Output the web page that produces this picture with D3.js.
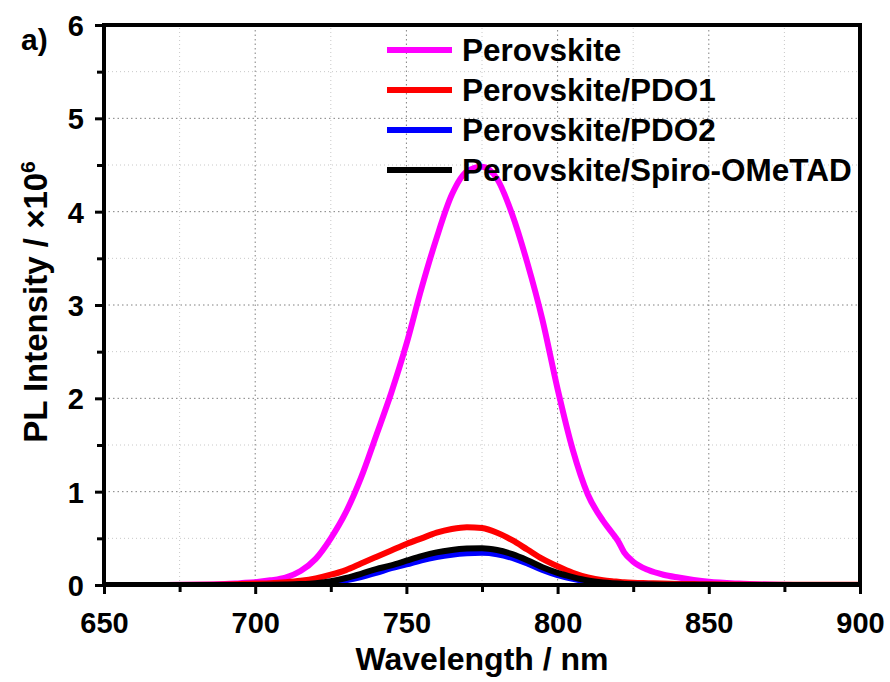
<!DOCTYPE html>
<html>
<head>
<meta charset="utf-8">
<script src="https://cdn.jsdelivr.net/npm/d3@7"></script>
<style>
  body { margin: 0; background: #fff; }
  text { font-family: Arial, "Liberation Sans", sans-serif; font-weight: bold; }
</style>
</head>
<body>
<svg id="chart" width="890" height="682"></svg>
<script>
// wavelength grid (nm)
const wavelength = [650, 670, 685, 690, 695,
  700, 705, 710, 715, 720, 725, 730, 735, 740, 745, 750, 755, 760, 765, 770, 775,
  780, 785, 790, 795, 800, 805, 810, 815, 818, 820, 822,
  825, 830, 835, 840, 845, 850, 860, 870, 880, 900];

// PL intensity, x10^6
const perovskite = [0, 0, 0.005, 0.01, 0.02,
  0.03, 0.05, 0.08, 0.15, 0.28, 0.5, 0.78, 1.15, 1.6, 2.06, 2.58, 3.18, 3.72, 4.18, 4.43, 4.48,
  4.35, 3.97, 3.45, 2.84, 2.1, 1.45, 0.97, 0.69, 0.56, 0.47, 0.35,
  0.25, 0.16, 0.11, 0.08, 0.055, 0.035, 0.015, 0.005, 0, 0];
const pdo1 = [0, 0, 0.003, 0.005, 0.01,
  0.015, 0.02, 0.03, 0.045, 0.07, 0.11, 0.16, 0.23, 0.3, 0.37, 0.44, 0.5, 0.56, 0.6, 0.62, 0.61,
  0.56, 0.48, 0.38, 0.28, 0.2, 0.13, 0.08, 0.05, 0.04, 0.035, 0.03,
  0.025, 0.02, 0.015, 0.012, 0.01, 0.008, 0.005, 0.003, 0.002, 0.002];
const pdo2 = [0, 0, 0, 0, 0,
  0, 0, 0, 0.003, 0.01, 0.025, 0.05, 0.085, 0.13, 0.18, 0.22, 0.265, 0.3, 0.325, 0.34, 0.345,
  0.33, 0.29, 0.23, 0.16, 0.105, 0.065, 0.033, 0.016, 0.011, 0.008, 0.006,
  0.004, 0.002, 0, 0, 0, 0, 0, 0, 0, 0];
const spiro = [0, 0, 0, 0, 0,
  0, 0.002, 0.005, 0.01, 0.02, 0.04, 0.075, 0.12, 0.17, 0.21, 0.26, 0.31, 0.35, 0.375, 0.39, 0.395,
  0.375, 0.33, 0.265, 0.19, 0.13, 0.085, 0.048, 0.027, 0.019, 0.015, 0.012,
  0.008, 0.005, 0.003, 0.003, 0.002, 0.002, 0, 0, 0, 0];

const seriesNames = ["Perovskite", "Perovskite/PDO1", "Perovskite/PDO2", "Perovskite/Spiro-OMeTAD"];
const seriesColors = ["#ff00ff", "#ff0000", "#0000ff", "#000000"];
const seriesValues = [perovskite, pdo1, pdo2, spiro];

const xTicks = [650, 700, 750, 800, 850, 900];
const xMinor = [675, 725, 775, 825, 875];
const yTicks = [0, 1, 2, 3, 4, 5, 6];
const yMinor = [0.5, 1.5, 2.5, 3.5, 4.5, 5.5];

const margin = {left: 104, right: 30, top: 25, bottom: 97};
const width = 890, height = 682;

const svg = d3.select("#chart");

const x = d3.scaleLinear().domain([650, 900]).range([margin.left, width - margin.right]);
const y = d3.scaleLinear().domain([0, 6]).range([height - margin.bottom, margin.top]);

// grid: light dots on minor, darker dots on major
const grid = svg.append("g");
grid.selectAll(".gxm").data(xMinor).enter().append("line")
    .attr("x1", d => x(d)).attr("x2", d => x(d))
    .attr("y1", y(0)).attr("y2", y(6))
    .attr("stroke", "#c8c8c8").attr("stroke-dasharray", "1,3");
grid.selectAll(".gym").data(yMinor).enter().append("line")
    .attr("x1", x(650)).attr("x2", x(900))
    .attr("y1", d => y(d)).attr("y2", d => y(d))
    .attr("stroke", "#c8c8c8").attr("stroke-dasharray", "1,3");
grid.selectAll(".gx").data(xTicks.slice(1, -1)).enter().append("line")
    .attr("x1", d => x(d)).attr("x2", d => x(d))
    .attr("y1", y(0)).attr("y2", y(6))
    .attr("stroke", "#808080").attr("stroke-dasharray", "1.5,3");
grid.selectAll(".gy").data(yTicks.slice(1, -1)).enter().append("line")
    .attr("x1", x(650)).attr("x2", x(900))
    .attr("y1", d => y(d)).attr("y2", d => y(d))
    .attr("stroke", "#808080").attr("stroke-dasharray", "1.5,3");

// curves
svg.append("clipPath").attr("id", "clip").append("rect")
    .attr("x", x(650)).attr("y", y(6))
    .attr("width", x(900) - x(650)).attr("height", y(0) - y(6));

const line = d3.line()
    .x((d, i) => x(wavelength[i]))
    .y(d => y(d))
    .curve(d3.curveMonotoneX);

svg.append("g").attr("clip-path", "url(#clip)")
  .selectAll("path").data(seriesValues).enter().append("path")
    .attr("d", d => line(d))
    .attr("fill", "none")
    .attr("stroke", (d, i) => seriesColors[i])
    .attr("stroke-width", 6)
    .attr("stroke-linejoin", "round");

// axes
const xAxis = svg.append("g").attr("transform", `translate(0,${y(0)})`)
    .call(d3.axisBottom(x).tickValues(xTicks).tickSize(9).tickSizeOuter(0).tickFormat(d3.format("d")));
const xAxisMinor = svg.append("g").attr("transform", `translate(0,${y(0)})`)
    .call(d3.axisBottom(x).tickValues(xMinor).tickSize(7).tickSizeOuter(0).tickFormat(""));
const yAxis = svg.append("g").attr("transform", `translate(${x(650)},0)`)
    .call(d3.axisLeft(y).tickValues(yTicks).tickSize(9).tickSizeOuter(0).tickPadding(11).tickFormat(d3.format("d")));
const yAxisMinor = svg.append("g").attr("transform", `translate(${x(650)},0)`)
    .call(d3.axisLeft(y).tickValues(yMinor).tickSize(7).tickSizeOuter(0).tickFormat(""));

[xAxis, xAxisMinor, yAxis, yAxisMinor].forEach(a => {
  a.select(".domain").remove();
  a.selectAll(".tick line").attr("stroke", "#000").attr("stroke-width", 3);
  a.selectAll("text").attr("fill", "#000").style("font-size", "29px");
});
xAxis.selectAll("text").attr("y", 48).attr("dy", 0);
yAxis.selectAll("text").attr("dy", "0.36em");

// frame
svg.append("rect")
    .attr("x", x(650)).attr("y", y(6))
    .attr("width", x(900) - x(650)).attr("height", y(0) - y(6))
    .attr("fill", "none").attr("stroke", "#000").attr("stroke-width", 4);

// titles
svg.append("text")
    .attr("x", (x(650) + x(900)) / 2).attr("y", 670)
    .attr("text-anchor", "middle").style("font-size", "32px")
    .text("Wavelength / nm");

const yl = svg.append("text")
    .attr("transform", `translate(47,302) rotate(-90)`)
    .attr("text-anchor", "middle").style("font-size", "33px");
yl.append("tspan").text("PL Intensity / \u00d710");
yl.append("tspan").attr("dy", -12).style("font-size", "21px").text("6");

svg.append("text").attr("x", 21).attr("y", 50).style("font-size", "30px").text("a)");

// legend
const legend = svg.append("g").selectAll("g").data(seriesNames).enter().append("g")
    .attr("transform", (d, i) => `translate(387,${50 + i * 40})`);
legend.append("line")
    .attr("x1", 0).attr("x2", 65).attr("y1", 0).attr("y2", 0)
    .attr("stroke", (d, i) => seriesColors[i]).attr("stroke-width", 6);
legend.append("text")
    .attr("x", 75).attr("y", 11).style("font-size", "31.5px")
    .text(d => d);
</script>
</body>
</html>
